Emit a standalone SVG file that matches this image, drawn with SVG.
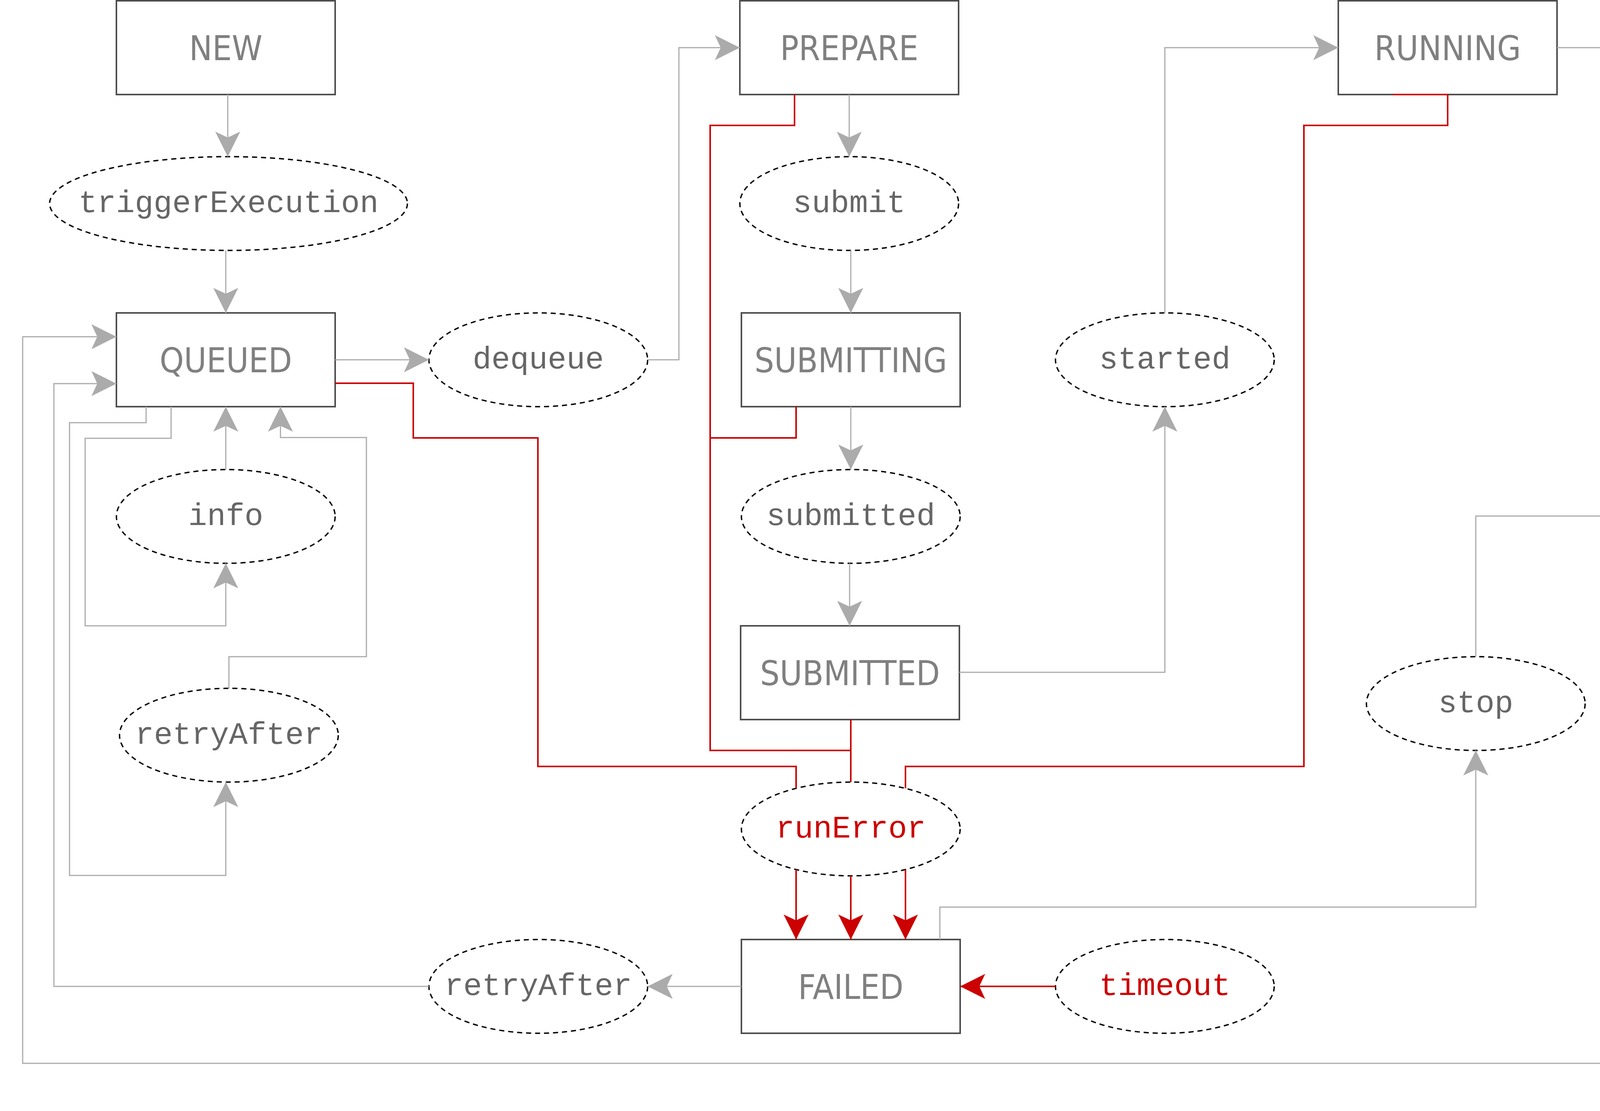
<svg xmlns="http://www.w3.org/2000/svg" width="5800" height="2844" viewBox="0 0 5800 2844">
<style>
.box{fill:#fff;stroke:#4d4d4d;stroke-width:4}
.dbox{fill:#fff;stroke:#4d4d4d;stroke-width:3;stroke-dasharray:12 9}
.ev{fill:#fff;stroke:#000;stroke-width:3.5;stroke-dasharray:13 10}
.bt{font-family:"DejaVu Sans Condensed","DejaVu Sans",sans-serif;font-stretch:condensed;font-size:88px;fill:#808080;text-anchor:middle}
.et{font-family:"Liberation Mono","Courier New",monospace;font-size:80px;fill:#666;text-anchor:middle}
.red{fill:#cc0000}
.g{fill:none;stroke:#ababab;stroke-width:3}
.r{fill:none;stroke:#cc0000;stroke-width:4}
.ga{marker-end:url(#ag)}
.ra{marker-end:url(#ar)}
</style>
<defs>
<marker id="ag" markerWidth="66" markerHeight="66" refX="64" refY="32" orient="auto" markerUnits="userSpaceOnUse"><path d="M64,32 L0,0 L15,32 L0,64 Z" fill="#ababab"/></marker>
<marker id="ar" markerWidth="66" markerHeight="66" refX="64" refY="32" orient="auto" markerUnits="userSpaceOnUse"><path d="M64,32 L0,0 L15,32 L0,64 Z" fill="#cc0000"/></marker>
</defs>
<rect width="5800" height="2844" fill="#fff"/>
<g id="n-new"><rect class="box" x="298" y="2" width="560" height="240"/><text class="bt" x="578" y="154">NEW</text></g>
<g id="n-triggerExecution"><ellipse class="ev" cx="585" cy="521" rx="458" ry="120"/><text class="et" x="585" y="543">triggerExecution</text></g>
<g id="n-queued"><rect class="box" x="298" y="801" width="560" height="240"/><text class="bt" x="578" y="953">QUEUED</text></g>
<g id="n-dequeue"><ellipse class="ev" cx="1378" cy="921" rx="280" ry="120"/><text class="et" x="1378" y="943">dequeue</text></g>
<g id="n-prepare"><rect class="box" x="1894" y="2" width="560" height="240"/><text class="bt" x="2174" y="154">PREPARE</text></g>
<g id="n-submit"><ellipse class="ev" cx="2174" cy="521" rx="280" ry="120"/><text class="et" x="2174" y="543">submit</text></g>
<g id="n-submitting"><rect class="box" x="1898" y="801" width="560" height="240"/><text class="bt" x="2178" y="953">SUBMITTING</text></g>
<g id="n-submitted-event"><ellipse class="ev" cx="2178" cy="1322" rx="280" ry="120"/><text class="et" x="2178" y="1344">submitted</text></g>
<g id="n-submitted"><rect class="box" x="1896" y="1602" width="560" height="240"/><text class="bt" x="2176" y="1754">SUBMITTED</text></g>
<g id="n-started"><ellipse class="ev" cx="2982" cy="921" rx="280" ry="120"/><text class="et" x="2982" y="943">started</text></g>
<g id="n-running"><rect class="box" x="3426" y="2" width="560" height="240"/><text class="bt" x="3706" y="154">RUNNING</text></g>
<g id="n-terminate"><ellipse class="ev" cx="4498" cy="122" rx="280" ry="120"/><text class="et" x="4498" y="144">terminate</text></g>
<g id="n-terminated"><rect class="box" x="5006" y="2" width="560" height="240"/><text class="bt" x="5286" y="154">TERMINATED</text></g>
<g id="n-stop-1"><ellipse class="ev" cx="4494" cy="761" rx="280" ry="120"/><text class="et" x="4494" y="783">stop</text></g>
<g id="n-success"><ellipse class="ev" cx="5294" cy="761" rx="280" ry="120"/><text class="et" x="5294" y="783">success</text></g>
<g id="n-error"><rect class="dbox" x="4214" y="1201" width="560" height="240"/><text class="bt" x="4494" y="1353">ERROR</text></g>
<g id="n-done"><rect class="dbox" x="5014" y="1201" width="560" height="240"/><text class="bt" x="5294" y="1353">DONE</text></g>
<g id="n-info"><ellipse class="ev" cx="578" cy="1322" rx="280" ry="120"/><text class="et" x="578" y="1344">info</text></g>
<g id="n-retryAfter-1"><ellipse class="ev" cx="586" cy="1882" rx="280" ry="120"/><text class="et" x="586" y="1904">retryAfter</text></g>
<g id="n-runError"><ellipse class="ev" cx="2178" cy="2122" rx="280" ry="120"/><text class="et red" x="2178" y="2144">runError</text></g>
<g id="n-failed"><rect class="box" x="1898" y="2405" width="560" height="240"/><text class="bt" x="2178" y="2557">FAILED</text></g>
<g id="n-retryAfter-2"><ellipse class="ev" cx="1378" cy="2525" rx="280" ry="120"/><text class="et" x="1378" y="2547">retryAfter</text></g>
<g id="n-timeout"><ellipse class="ev" cx="2982" cy="2525" rx="280" ry="120"/><text class="et red" x="2982" y="2547">timeout</text></g>
<g id="n-stop-2"><ellipse class="ev" cx="3778" cy="1801" rx="280" ry="120"/><text class="et" x="3778" y="1823">stop</text></g>
<g id="n-halt"><ellipse class="ev" cx="4494" cy="1801" rx="280" ry="120"/><text class="et" x="4494" y="1823">halt</text></g>
<g id="n-retryAfter-3"><ellipse class="ev" cx="4496" cy="2722" rx="278" ry="120"/><text class="et" x="4496" y="2744">retryAfter</text></g>

<g id="connectors">
<path class="g ga" d="M583,242 V401"/>
<path class="g ga" d="M578,641 V801"/>
<path class="g ga" d="M858,921 H1098"/>
<path class="g ga" d="M1658,921 H1738 V122 H1894"/>
<path class="g ga" d="M2174,242 V401"/>
<path class="g ga" d="M2178,641 V801"/>
<path class="g ga" d="M2178,1041 V1202"/>
<path class="g ga" d="M2175,1442 V1602"/>
<path class="g ga" d="M2456,1721 H2982 V1041"/>
<path class="g ga" d="M2982,801 V122 H3426"/>
<path class="g ga" d="M3986,122 H4218"/>
<path class="g ga" d="M4778,122 H5006"/>
<path class="g ga" d="M5286,242 V401 H4494 V641"/>
<path class="g ga" d="M5426,242 V481 H5294 V641"/>
<path class="g ga" d="M4494,881 V1201"/>
<path class="g ga" d="M5294,881 V1201"/>
<path class="g ga" d="M3778,1681 V1321 H4214"/>
<path class="g ga" d="M4494,1681 V1441"/>
<path class="g ga" d="M2406,2405 V2322 H3778 V1921"/>
<path class="g ga" d="M5566,122 H5738 V2722 H4774"/>
<path class="g ga" d="M4218,2722 H58 V862 H298"/>
<path class="g ga" d="M1898,2525 H1658"/>
<path class="g ga" d="M1098,2525 H138 V982 H298"/>
<path class="g ga" d="M578,1202 V1041"/>
<path class="g ga" d="M586,1762 V1681 H938 V1120 H718 V1041"/>
<path class="g ga" d="M438,1041 V1122 H218 V1602 H578 V1442"/>
<path class="g ga" d="M374,1041 V1082 H178 V2241 H578 V2002"/>
<path class="r" d="M858,981 H1058 V1121 H1377 V1962 H2038 V2018"/>
<path class="r" d="M2034,242 V321 H1818 V1921 H2178"/>
<path class="r" d="M2038,1041 V1121 H1818"/>
<path class="r" d="M2178,1842 V2002"/>
<path class="r" d="M3566,242 H3706 V321 H3338 V1962 H2318 V2018"/>
<path class="r ra" d="M2038,2226 V2405"/>
<path class="r ra" d="M2178,2242 V2405"/>
<path class="r ra" d="M2318,2226 V2405"/>
<path class="r ra" d="M2702,2525 H2458"/>
</g>
</svg>
